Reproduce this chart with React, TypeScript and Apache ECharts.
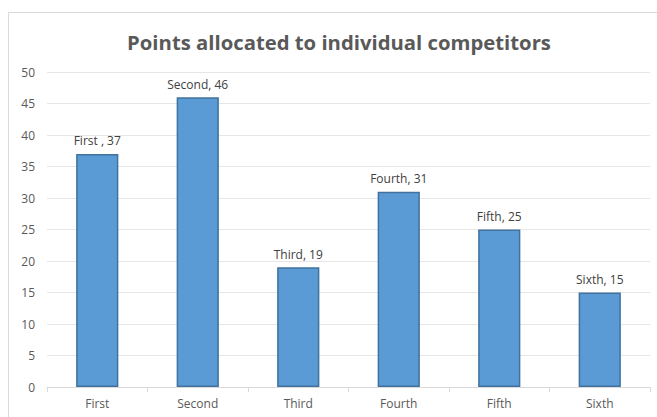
import React, { useEffect, useRef } from "react";
import * as echarts from "echarts";

const categories = ["First", "Second", "Third", "Fourth", "Fifth", "Sixth"];
const values = [37, 46, 19, 31, 25, 15];
const labelTexts = ["First , 37", "Second, 46", "Third, 19", "Fourth, 31", "Fifth, 25", "Sixth, 15"];

export default function App() {
  const ref = useRef<HTMLDivElement>(null);
  useEffect(() => {
    const chart = echarts.init(ref.current!, null, { renderer: "svg" });
    chart.setOption({
      animation: false,
      backgroundColor: "#ffffff",
      textStyle: { fontFamily: "Open Sans" },
      graphic: [
        {
          type: "rect",
          shape: { x: 8.5, y: 12.5, width: 700, height: 420 },
          style: { fill: "none", stroke: "#d9d9d9", lineWidth: 1 },
        },
        {
          type: "text",
          x: 339,
          y: 42,
          style: {
            text: "Points allocated to individual competitors",
            align: "center",
            verticalAlign: "middle",
            fontSize: 20.3,
            fontWeight: "bold",
            fill: "#595959",
            fontFamily: "Open Sans",
          },
        },
      ],
      grid: { left: 47, right: 7, top: 72, bottom: 30, containLabel: false },
      xAxis: {
        type: "category",
        data: categories,
        axisLine: { lineStyle: { color: "#d9d9d9" } },
        axisTick: { show: true, length: 5, alignWithLabel: false, lineStyle: { color: "#d9d9d9" } },
        axisLabel: { color: "#595959", fontSize: 12, margin: 10 },
      },
      yAxis: {
        type: "value",
        min: 0,
        max: 50,
        interval: 5,
        axisLine: { show: false },
        axisTick: { show: false },
        splitLine: { lineStyle: { color: "#e6e6e6" } },
        axisLabel: { color: "#595959", fontSize: 12, margin: 12 },
      },
      series: [
        {
          type: "bar",
          data: values,
          barWidth: "42%",
          itemStyle: { color: "#5b9bd5", borderColor: "#41719c", borderWidth: 1.5 },
          label: {
            show: true,
            position: "top",
            distance: 7,
            color: "#404040",
            fontSize: 12,
            formatter: (p: any) => labelTexts[p.dataIndex],
          },
        },
      ],
    });
    return () => chart.dispose();
  }, []);
  return (
    <div
      ref={ref}
      style={{ position: "fixed", left: 0, top: 0, width: 657, height: 417 }}
    />
  );
}
